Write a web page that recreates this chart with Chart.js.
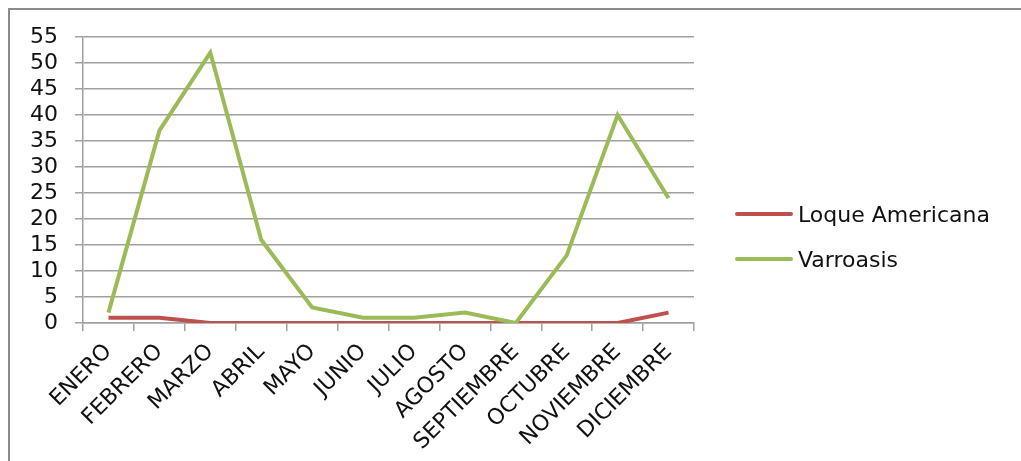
<!DOCTYPE html>
<html>
<head>
<meta charset="utf-8">
<script src="https://cdn.jsdelivr.net/npm/chart.js@4"></script>
<style>
  html, body { margin: 0; padding: 0; background: #fff; overflow: hidden; }
  #frame { position: absolute; left: 8px; top: 8px; width: 1040px; height: 480px; border: 2px solid #8a8a8a; box-sizing: border-box; }
  #wrap { position: absolute; left: 0; top: 0; width: 1021px; height: 461px; }
  #legend { position: absolute; left: 735px; top: 199px; font-family: "DejaVu Sans", sans-serif; font-size: 22px; color: #111; }
  #legend .item { display: flex; align-items: center; white-space: nowrap; height: 30px; margin-bottom: 15px; }
  #legend .line { width: 58px; height: 4px; border-radius: 2px; margin-right: 5px; }
</style>
</head>
<body>
<div id="frame"></div>
<div id="wrap"><canvas id="myChart" width="1021" height="461"></canvas></div>
<div id="legend"></div>
<script>
// données
const meses = ['ENERO', 'FEBRERO', 'MARZO', 'ABRIL', 'MAYO', 'JUNIO', 'JULIO',
  'AGOSTO', 'SEPTIEMBRE', 'OCTUBRE', 'NOVIEMBRE', 'DICIEMBRE'];
const loqueAmericana = [1, 1, 0, 0, 0, 0, 0, 0, 0, 0, 0, 2];
const varroasis = [2, 37, 52, 16, 3, 1, 1, 2, 0, 13, 40, 24];
const nombres = ['Loque Americana', 'Varroasis'];

const rojo = '#C0504D';
const verde = '#9BBB59';
const gris = '#a0a0a0';

const ctx = document.getElementById('myChart').getContext('2d');
const myChart = new Chart(ctx, {
    type: 'line',
    data: {
        labels: meses,
        datasets: [{
            label: nombres[0],
            data: loqueAmericana,
            borderColor: rojo,
            backgroundColor: rojo,
            borderWidth: 4,
            pointRadius: 0,
            tension: 0,
            order: 1
        }, {
            label: nombres[1],
            data: varroasis,
            borderColor: verde,
            backgroundColor: verde,
            borderWidth: 4,
            pointRadius: 0,
            tension: 0,
            order: 0
        }]
    },
    options: {
        responsive: false,
        animation: false,
        layout: { padding: { top: 37, right: 327, bottom: 0, left: 0 } },
        plugins: {
            legend: { display: false },
            tooltip: { enabled: false }
        },
        scales: {
            x: {
                offset: true,
                grid: { offset: true, drawOnChartArea: false, tickLength: 8, color: gris, lineWidth: 1.5 },
                border: { color: gris, width: 1.5 },
                ticks: {
                    minRotation: 45, maxRotation: 45, autoSkip: false,
                    color: '#111', padding: 8,
                    font: { family: 'DejaVu Sans', size: 22 }
                },
                afterFit: (s) => { s.height = 461 - 323; }
            },
            y: {
                min: 0,
                max: 55,
                grid: { tickLength: 8, color: gris, lineWidth: 1.5 },
                border: { color: gris, width: 1.5 },
                ticks: {
                    stepSize: 5, autoSkip: false,
                    color: '#111', padding: 17,
                    font: { family: 'DejaVu Sans', size: 22 }
                },
                afterFit: (s) => { s.width = 83; }
            }
        }
    }
});

// légende HTML construite depuis les datasets
const legend = document.getElementById('legend');
myChart.data.datasets.forEach((ds) => {
    const item = document.createElement('div');
    item.className = 'item';
    const line = document.createElement('span');
    line.className = 'line';
    line.style.background = ds.borderColor;
    const txt = document.createElement('span');
    txt.textContent = ds.label;
    item.appendChild(line);
    item.appendChild(txt);
    legend.appendChild(item);
});
</script>
</body>
</html>
